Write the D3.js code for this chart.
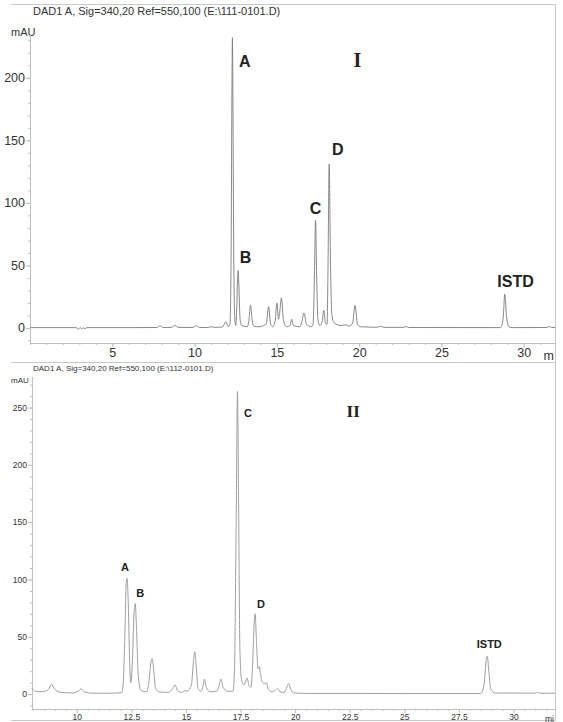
<!DOCTYPE html>
<html>
<head>
<meta charset="utf-8">
<script src="https://cdn.jsdelivr.net/npm/d3@7"></script>
<style>
body { margin: 0; background: #fff; }
</style>
</head>
<body>
<div id="chart"></div>
<script>
// chromatogram I, [min, mAU]
var traceI = [
  [0, 0.3], [2.8, 0.3], [2.95, -0.8], [3.05, 0.3], [3.15, -0.9], [3.25, 0.2], [3.35, -0.8], [3.45, 0.3],
  [6.2, 0.3], [7.7, 0.4], [7.9, 1.8], [8.1, 0.4], [8.6, 0.5], [8.8, 2], [9.0, 0.5], [9.9, 0.4],
  [10.1, 1.8], [10.3, 0.4], [10.8, 0.4], [11.0, 1], [11.2, 0.5], [11.7, 0.8], [11.9, 5], [12.05, 1],
  [12.15, 3], [12.22, 60], [12.27, 190], [12.3, 232], [12.33, 180], [12.38, 60], [12.44, 8], [12.5, 2],
  [12.56, 15], [12.62, 42], [12.65, 46], [12.69, 35], [12.76, 8], [12.85, 2], [13.2, 1],
  [13.3, 6], [13.4, 18], [13.5, 6], [13.6, 1.5], [13.9, 1],
  [14.35, 3], [14.5, 17], [14.62, 3], [14.75, 1],
  [14.9, 6], [15.0, 20], [15.1, 7], [15.15, 10], [15.28, 24], [15.4, 6], [15.6, 1],
  [15.8, 2], [15.9, 7], [16.0, 2], [16.4, 1],
  [16.5, 4], [16.65, 12], [16.8, 3], [17.1, 1],
  [17.2, 3], [17.28, 40], [17.35, 86], [17.42, 40], [17.5, 6], [17.62, 2],
  [17.75, 5], [17.85, 14], [17.95, 4], [18.05, 3],
  [18.1, 40], [18.18, 131], [18.26, 50], [18.35, 10], [18.45, 5], [18.6, 3], [18.9, 2], [19.2, 2.5], [19.4, 1.5],
  [19.6, 4], [19.75, 18], [19.9, 3], [20.1, 1], [21.1, 0.6], [21.3, 1.5], [21.5, 0.5],
  [22.7, 0.5], [22.85, 1.2], [23, 0.4], [28.6, 0.3], [28.75, 8], [28.85, 27], [28.95, 10], [29.1, 1],
  [29.3, 0.3], [31.4, 0.4], [31.55, 1.2], [31.7, 0.4], [31.9, 0.4]
];

// chromatogram II
var traceII = [
  [7.95, 5], [8.1, 2.5], [8.4, 2], [8.7, 4], [8.85, 8.5], [9.0, 4], [9.3, 1.5], [9.8, 1],
  [10.1, 3], [10.2, 4.5], [10.35, 2], [10.7, 0.8], [11.5, 0.8], [12.05, 1.2],
  [12.12, 8], [12.2, 50], [12.26, 95], [12.3, 101], [12.35, 85], [12.42, 30], [12.47, 10],
  [12.55, 30], [12.62, 70], [12.68, 79], [12.73, 60], [12.82, 15], [12.95, 3], [13.2, 2],
  [13.3, 10], [13.4, 28], [13.45, 31], [13.52, 22], [13.6, 6], [13.75, 2], [14.2, 1.5],
  [14.4, 5], [14.5, 8], [14.62, 3], [14.8, 1.5], [14.95, 3], [15.05, 2.5],
  [15.25, 8], [15.35, 30], [15.4, 37], [15.47, 25], [15.55, 5], [15.7, 2.5],
  [15.78, 7], [15.85, 13], [15.93, 6], [16.1, 2], [16.4, 2.5],
  [16.5, 6], [16.6, 13], [16.7, 6], [16.9, 2.5], [17.15, 2.5],
  [17.22, 20], [17.3, 150], [17.36, 264], [17.41, 170], [17.47, 40], [17.55, 12], [17.65, 8],
  [17.75, 12], [17.8, 14], [17.88, 8], [17.98, 6],
  [18.05, 25], [18.12, 60], [18.17, 70], [18.23, 45], [18.3, 22], [18.36, 24], [18.42, 17], [18.5, 10],
  [18.6, 9], [18.68, 10], [18.78, 4], [18.95, 2], [19.1, 3.5], [19.2, 5], [19.3, 2], [19.5, 1.5],
  [19.6, 5], [19.7, 9], [19.8, 4], [19.95, 1], [20.5, 0.6], [25, 0.5], [28.5, 0.5],
  [28.65, 8], [28.75, 30], [28.8, 33], [28.87, 20], [28.95, 5], [29.15, 1], [31, 0.8], [31.1, 1.5],
  [31.2, 0.8], [31.9, 0.8]
];

// peak labels: text, min, mAU (text anchor point)
var labelsI = [["A", 12.7, 209], ["B", 12.75, 52], ["C", 17.0, 91], ["D", 18.35, 138], ["ISTD", 29.5, 33]];
var labelsII = [["A", 12.03, 107], ["B", 12.72, 85], ["C", 17.66, 242], ["D", 18.25, 75], ["ISTD", 28.89, 40]];

var xTicksI = [5, 10, 15, 20, 25, 30];
var yTicksI = [0, 50, 100, 150, 200];
var xTicksII = [10, 12.5, 15, 17.5, 20, 22.5, 25, 27.5, 30];
var yTicksII = [0, 50, 100, 150, 200, 250];

var sans = "'Liberation Sans', Arial, sans-serif";
var serif = "'Liberation Serif', 'Times New Roman', serif";

var svg = d3.select("#chart")
  .append("svg")
  .attr("width", 563)
  .attr("height", 722)
  .style("font-family", sans);

// frame lines
var frame = svg.append("g").attr("stroke", "#c8c8c8").attr("stroke-width", 1);
frame.append("line").attr("x1", 11).attr("x2", 555.5).attr("y1", 4.5).attr("y2", 4.5);
frame.append("line").attr("x1", 11).attr("x2", 555.5).attr("y1", 362.5).attr("y2", 362.5);
frame.append("line").attr("x1", 11).attr("x2", 555.5).attr("y1", 720.5).attr("y2", 720.5);
frame.append("line").attr("x1", 555.5).attr("x2", 555.5).attr("y1", 4.5).attr("y2", 720.5);

function panel(p) {
  var x = d3.scaleLinear().domain(p.xDomain).range(p.xRange);
  var y = d3.scaleLinear().domain(p.yDomain).range(p.yRange);
  var g = svg.append("g");

  g.append("text")
    .attr("x", 33).attr("y", p.headerY)
    .attr("font-size", p.headerSize).attr("fill", "#333")
    .text(p.header);
  g.append("text")
    .attr("x", 11).attr("y", p.unitY)
    .attr("font-size", p.headerSize).attr("fill", "#333")
    .text("mAU");

  // y axis
  var yMinor = d3.range(-10, p.yDomain[1], 10);
  g.append("g")
    .attr("transform", "translate(" + p.xRange[0] + ",0)")
    .call(d3.axisLeft(y).tickValues(yMinor).tickSize(2).tickSizeOuter(0).tickFormat(""));
  g.append("g")
    .attr("transform", "translate(" + p.xRange[0] + ",0)")
    .call(d3.axisLeft(y).tickValues(p.yTicks).tickSize(4).tickSizeOuter(0).tickPadding(1))
    .attr("font-size", p.tickSize);

  // x axis
  var xMinor = d3.range(Math.ceil(p.xDomain[0] / p.xMinorStep) * p.xMinorStep, p.xDomain[1], p.xMinorStep);
  g.append("g")
    .attr("transform", "translate(0," + p.yRange[0] + ")")
    .call(d3.axisBottom(x).tickValues(xMinor).tickSize(2).tickSizeOuter(0).tickFormat(""));
  g.append("g")
    .attr("transform", "translate(0," + p.yRange[0] + ")")
    .call(d3.axisBottom(x).tickValues(p.xTicks).tickSize(4).tickSizeOuter(0).tickPadding(1)
      .tickFormat(function(d) { return String(d); }))
    .attr("font-size", p.tickSize);

  g.selectAll(".domain, .tick line").attr("stroke", "#c0c0c0");
  g.selectAll(".tick text").attr("fill", "#333").attr("font-family", sans);

  // unit at the right end, cut by the frame in the print
  g.append("text")
    .attr("x", p.xRange[1] - 1).attr("y", p.yRange[0] + 4 + p.tickSize)
    .attr("text-anchor", "end")
    .attr("font-size", p.tickSize).attr("fill", "#333")
    .text(p.unit);

  var line = d3.line()
    .x(function(d) { return x(d[0]); })
    .y(function(d) { return y(d[1]); })
    .curve(d3.curveMonotoneX);

  g.append("path")
    .datum(p.trace)
    .attr("fill", "none")
    .attr("stroke", p.lineColor)
    .attr("stroke-width", p.lineWidth)
    .attr("d", line);

  g.selectAll(".peak")
    .data(p.labels)
    .enter().append("text")
    .attr("class", "peak")
    .attr("x", function(d) { return x(d[1]); })
    .attr("y", function(d) { return y(d[2]); })
    .attr("text-anchor", function(d) { return d[0] == "ISTD" ? "middle" : "start"; })
    .attr("font-size", p.labelSize)
    .attr("font-weight", "bold")
    .attr("fill", "#222")
    .text(function(d) { return d[0]; });

  g.append("text")
    .attr("x", x(p.roman[1])).attr("y", y(p.roman[2]))
    .attr("text-anchor", "middle")
    .style("font-family", serif)
    .attr("font-weight", "bold")
    .attr("font-size", p.romanSize)
    .attr("fill", "#222")
    .text(p.roman[0]);
}

panel({
  header: "DAD1 A, Sig=340,20 Ref=550,100 (E:\\111-0101.D)",
  headerY: 15, unitY: 36, headerSize: 11,
  xDomain: [0, 31.9], xRange: [30, 555],
  yDomain: [-12, 235], yRange: [343, 34],
  xTicks: xTicksI, xMinorStep: 1, yTicks: yTicksI,
  tickSize: 12.5, labelSize: 16, romanSize: 20, unit: "m",
  trace: traceI, lineColor: "#7a7a7a", lineWidth: 0.9,
  labels: labelsI, roman: ["I", 19.9, 209]
});

panel({
  header: "DAD1 A, Sig=340,20 Ref=550,100 (E:\\112-0101.D)",
  headerY: 371, unitY: 383, headerSize: 8,
  xDomain: [7.95, 31.9], xRange: [32, 555],
  yDomain: [-13, 277], yRange: [709, 376.6],
  xTicks: xTicksII, xMinorStep: 0.5, yTicks: yTicksII,
  tickSize: 8.5, labelSize: 11, romanSize: 17, unit: "mi",
  trace: traceII, lineColor: "#a0a0a0", lineWidth: 1,
  labels: labelsII, roman: ["II", 22.66, 242]
});
</script>
</body>
</html>
